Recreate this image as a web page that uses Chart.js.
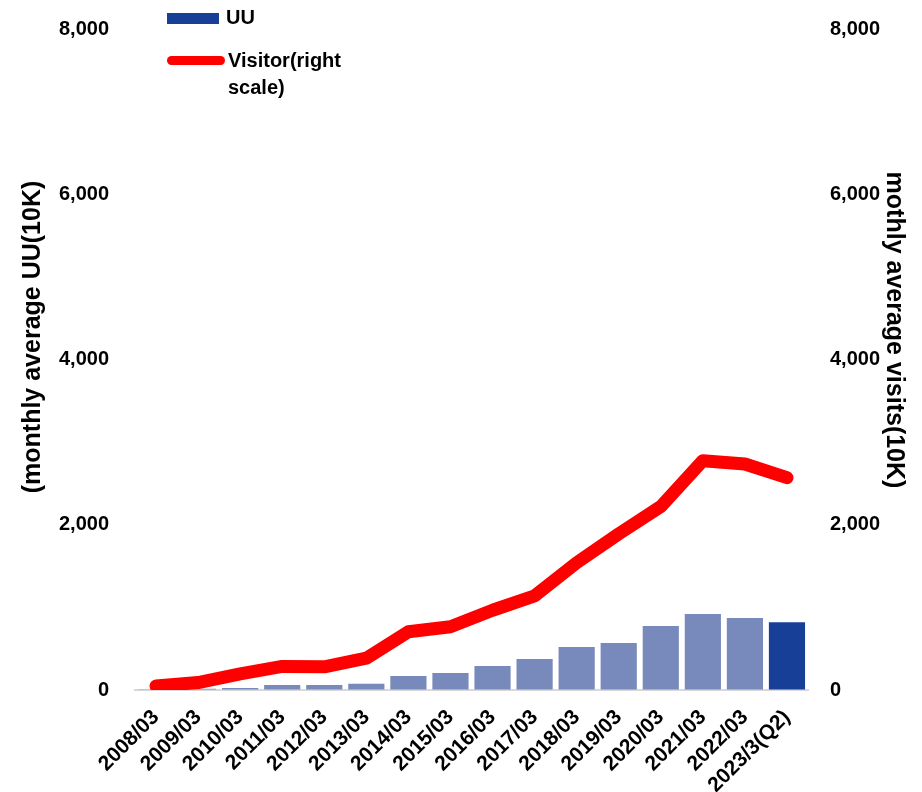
<!DOCTYPE html>
<html>
<head>
<meta charset="utf-8">
<script src="https://cdn.jsdelivr.net/npm/chart.js@4/dist/chart.umd.min.js"></script>
<style>
  body { margin: 0; background: #fff; font-family: "Liberation Sans", Arial, sans-serif; }
  #wrap { position: relative; width: 922px; height: 792px; }
  #legend { position: absolute; left: 167px; top: 4px; font-weight: bold; font-size: 20px; color: #000; line-height: 27px; }
  .item { display: flex; align-items: flex-start; margin-bottom: 16px; }
  .sw-bar { width: 52px; height: 11px; background: #173f98; margin-top: 9px; margin-right: 7px; }
  .sw-line { width: 58px; height: 9px; background: #ff0000; border-radius: 5px; margin-top: 9px; margin-right: 3px; }
</style>
</head>
<body>
<div id="wrap">
  <canvas id="chart" width="922" height="792"></canvas>
  <div id="legend">
    <div class="item"><span class="sw-bar"></span><span>UU</span></div>
    <div class="item"><span class="sw-line"></span><span>Visitor(right<br>scale)</span></div>
  </div>
</div>
<script>
// categorias y valores
const categorias = ['2008/03', '2009/03', '2010/03', '2011/03', '2012/03', '2013/03', '2014/03', '2015/03',
  '2016/03', '2017/03', '2018/03', '2019/03', '2020/03', '2021/03', '2022/03', '2023/3(Q2)'];
const uu = [10, 15, 25, 62, 60, 75, 170, 205, 290, 375, 520, 570, 775, 920, 870, 820];
const visitas = [50, 90, 195, 285, 280, 385, 705, 766, 965, 1140, 1540, 1890, 2220, 2775, 2735, 2570];
const ticksY = [0, 2000, 4000, 6000, 8000];
const tituloIzq = '(monthly average UU(10K)';
const tituloDer = 'mothly average visits(10K)';

const colorBarra = '#7889bb';
const colorUltima = '#173f98';
const familia = '"Liberation Sans", Arial, sans-serif';
const fuente = { family: familia, weight: 'bold', size: 20 };

// titulos de los ejes dibujados a mano (en el original no estan centrados)
const titulosEjes = {
  id: 'titulosEjes',
  afterDraw(chart) {
    const c = chart.ctx;
    c.save();
    c.fillStyle = '#000';
    c.font = 'bold 25px ' + familia;
    c.textAlign = 'center';
    c.textBaseline = 'middle';
    c.translate(33, 337);
    c.rotate(-Math.PI / 2);
    c.fillText(tituloIzq, 0, 0);
    c.restore();
    c.save();
    c.fillStyle = '#000';
    c.font = 'bold 25px ' + familia;
    c.textAlign = 'center';
    c.textBaseline = 'middle';
    c.translate(894, 330);
    c.rotate(Math.PI / 2);
    c.fillText(tituloDer, 0, 0);
    c.restore();
  }
};

const ctx = document.getElementById('chart').getContext('2d');
new Chart(ctx, {
  data: {
    labels: categorias,
    datasets: [
      {
        type: 'line',
        label: 'Visitor(right scale)',
        data: visitas,
        yAxisID: 'y1',
        borderColor: '#ff0000',
        borderWidth: 13,
        borderCapStyle: 'round',
        borderJoinStyle: 'round',
        pointRadius: 0,
        tension: 0,
        order: 0
      },
      {
        type: 'bar',
        label: 'UU',
        data: uu,
        yAxisID: 'y',
        backgroundColor: uu.map((v, i) => i === uu.length - 1 ? colorUltima : colorBarra),
        categoryPercentage: 1,
        barPercentage: 0.86,
        order: 1
      }
    ]
  },
  options: {
    responsive: false,
    animation: false,
    layout: { padding: { left: 15, right: 10, top: 29, bottom: 0 } },
    plugins: { legend: { display: false }, tooltip: { enabled: false } },
    scales: {
      x: {
        grid: { display: false, drawTicks: false },
        border: { display: true, color: '#d9d9d9', width: 2 },
        ticks: { color: '#000', font: { family: familia, weight: 'bold', size: 21 }, maxRotation: 45, minRotation: 45, padding: 15, autoSkip: false },
        afterFit: s => { s.height = 102; }
      },
      y: {
        position: 'left',
        min: 0, max: 8000,
        afterBuildTicks: s => { s.ticks = ticksY.map(v => ({ value: v })); },
        // marcas invisibles para separar las etiquetas sin inflar el margen superior
        grid: { drawOnChartArea: false, drawTicks: true, tickLength: 26, color: 'rgba(0,0,0,0)' },
        border: { display: false },
        ticks: { color: '#000', font: fuente, padding: 0, callback: v => v.toLocaleString('en-US') },
        afterFit: s => { s.width = 120; }
      },
      y1: {
        position: 'right',
        min: 0, max: 8000,
        afterBuildTicks: s => { s.ticks = ticksY.map(v => ({ value: v })); },
        grid: { drawOnChartArea: false, drawTicks: true, tickLength: 22, color: 'rgba(0,0,0,0)' },
        border: { display: false },
        ticks: { color: '#000', font: fuente, padding: 0, callback: v => v.toLocaleString('en-US') },
        afterFit: s => { s.width = 104; }
      }
    }
  },
  plugins: [titulosEjes]
});
</script>
</body>
</html>
